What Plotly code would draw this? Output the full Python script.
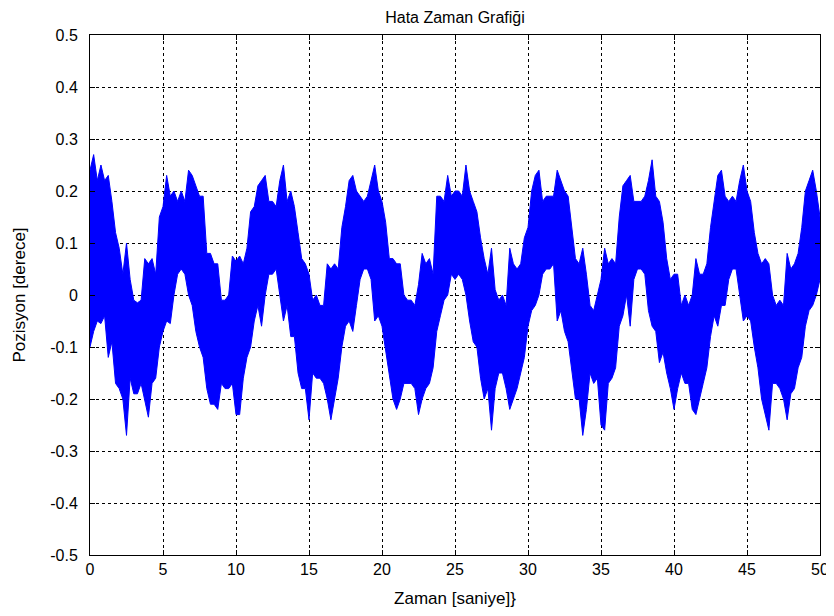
import plotly.graph_objects as go

# time axis: samples every 0.25 s from 0 to 50 s
time_s = [i * 0.25 for i in range(201)]

# upper envelope of the error band (degrees)
upper = [
    0.24, 0.27, 0.22, 0.25, 0.22, 0.23, 0.18, 0.12, 0.09, 0.04, 0.10, 0.03,
    -0.01, -0.015, -0.01, 0.07, 0.06, 0.07, 0.04, 0.15, 0.17, 0.23, 0.19, 0.20,
    0.18, 0.20, 0.18, 0.24, 0.23, 0.21, 0.19, 0.19, 0.08, 0.08,
    0.06, 0.06, -0.01, -0.01, 0.0, 0.075, 0.065, 0.075, 0.06, 0.09, 0.16, 0.17,
    0.21, 0.22, 0.23, 0.18, 0.18, 0.17, 0.22, 0.25, 0.18, 0.20, 0.17, 0.12,
    0.07, 0.06, 0.04, -0.01, 0.0, -0.02, -0.02, 0.06, 0.05,
    0.06, 0.05, 0.13, 0.17, 0.22, 0.23, 0.20, 0.19, 0.18, 0.19, 0.22, 0.25,
    0.20, 0.18, 0.14, 0.07, 0.07, 0.06, 0.06, 0.0, -0.01, -0.01, -0.02, 0.02,
    0.08, 0.06, 0.07, 0.04, 0.19, 0.19, 0.18, 0.23, 0.19, 0.20,
    0.20, 0.19, 0.25, 0.20, 0.18, 0.16, 0.11, 0.07, 0.04, 0.09, 0.01, -0.01,
    0.0, -0.02, 0.09, 0.06, 0.05, 0.06, 0.11, 0.13, 0.20, 0.23, 0.24, 0.18,
    0.19, 0.19, 0.19, 0.24, 0.22, 0.20, 0.19, 0.13, 0.07, 0.06,
    0.09, 0.04, -0.02, -0.03, 0.0, 0.03, 0.09, 0.06, 0.07, 0.06, 0.15, 0.21,
    0.22, 0.23, 0.18, 0.18, 0.18, 0.19, 0.22, 0.26, 0.19, 0.18, 0.14, 0.07,
    0.03, 0.04, 0.04, -0.02, 0.0, -0.02, 0.0, 0.07, 0.04,
    0.04, 0.06, 0.13, 0.18, 0.23, 0.24, 0.19, 0.18, 0.19, 0.18, 0.22, 0.25,
    0.20, 0.18, 0.12, 0.08, 0.06, 0.07, 0.06, 0.0, -0.02, -0.01, -0.02, 0.08,
    0.05, 0.06, 0.08, 0.13, 0.20, 0.22, 0.24, 0.20, 0.15,
]

# lower envelope of the error band (degrees)
lower = [
    -0.10, -0.07, -0.05, -0.055, -0.04, -0.12, -0.09, -0.17, -0.18, -0.20, -0.27, -0.16,
    -0.19, -0.19, -0.17, -0.20, -0.235, -0.17, -0.16, -0.10, -0.07, -0.05, -0.055, 0.0,
    0.04, 0.05, 0.04, 0.0, -0.02, -0.07, -0.10, -0.12, -0.18, -0.21,
    -0.21, -0.22, -0.17, -0.18, -0.18, -0.17, -0.23, -0.23, -0.16, -0.12, -0.10, -0.05,
    -0.02, -0.06, 0.0, 0.04, 0.04, 0.05, 0.0, -0.05, -0.02, -0.08, -0.08, -0.15,
    -0.18, -0.18, -0.24, -0.15, -0.16, -0.16, -0.17, -0.20, -0.24,
    -0.20, -0.16, -0.10, -0.06, -0.05, -0.07, -0.02, 0.03, 0.05, 0.05, 0.03, -0.05,
    -0.04, -0.06, -0.10, -0.15, -0.20, -0.22, -0.20, -0.17, -0.17, -0.17, -0.18, -0.23,
    -0.20, -0.18, -0.17, -0.14, -0.07, -0.04, -0.01, 0.0, 0.04, 0.03,
    0.04, 0.03, 0.0, -0.05, -0.09, -0.10, -0.16, -0.20, -0.18, -0.26, -0.18, -0.15,
    -0.15, -0.18, -0.22, -0.20, -0.18, -0.15, -0.12, -0.06, -0.03, -0.02, 0.0, 0.04,
    0.05, 0.05, 0.06, -0.05, -0.03, -0.07, -0.09, -0.14, -0.20, -0.20,
    -0.27, -0.22, -0.15, -0.17, -0.16, -0.25, -0.26, -0.17, -0.16, -0.14, -0.06, -0.04,
    0.0, -0.06, 0.03, 0.05, 0.05, 0.04, -0.03, -0.06, -0.07, -0.13, -0.11, -0.15,
    -0.18, -0.22, -0.18, -0.15, -0.17, -0.17, -0.22, -0.23, -0.20,
    -0.17, -0.14, -0.08, -0.04, -0.06, -0.02, -0.02, 0.03, 0.05, 0.05, 0.0, -0.05,
    -0.04, -0.05, -0.10, -0.14, -0.20, -0.23, -0.26, -0.17, -0.17, -0.18, -0.20, -0.24,
    -0.19, -0.18, -0.14, -0.12, -0.06, -0.03, -0.02, 0.0, 0.03,
]

x_ticks = [0, 5, 10, 15, 20, 25, 30, 35, 40, 45, 50]
y_ticks = [-0.5, -0.4, -0.3, -0.2, -0.1, 0, 0.1, 0.2, 0.3, 0.4, 0.5]
y_tick_text = ["-0.5", "-0.4", "-0.3", "-0.2", "-0.1", "0", "0.1", "0.2", "0.3", "0.4", "0.5"]

BLUE = "#0000FF"
FONT = "Liberation Sans, Arial, sans-serif"

fig = go.Figure()
fig.add_trace(go.Scatter(
    x=time_s + time_s[::-1],
    y=upper + lower[::-1],
    mode="lines",
    fill="toself",
    fillcolor=BLUE,
    line=dict(color=BLUE, width=1),
    hoverinfo="skip",
    showlegend=False,
))

axis_common = dict(
    showline=True, linecolor="black", linewidth=1, mirror="ticks",
    ticks="inside", ticklen=5, tickcolor="black", tickwidth=1,
    showgrid=True, gridcolor="black", griddash="dot", gridwidth=1,
    zeroline=False, automargin=False,
    tickfont=dict(family=FONT, size=16, color="black"),
)

# page body has an 8 px default margin, so the figure is sized to fit inside it
fig.update_layout(
    width=826, height=608,
    margin=dict(l=82, r=14, t=27, b=61),
    paper_bgcolor="white", plot_bgcolor="white",
    title=dict(text="Hata Zaman Grafiği", x=447 / 826, xanchor="center",
               y=1 - 4 / 608, yanchor="top", yref="container",
               font=dict(family=FONT, size=16, color="black")),
    xaxis=dict(range=[0, 50], tickvals=x_ticks,
               title=dict(text="Zaman [saniye]}", standoff=14,
                          font=dict(family=FONT, size=17, color="black")),
               **axis_common),
    yaxis=dict(range=[-0.5, 0.5], tickvals=y_ticks, ticktext=y_tick_text,
               ticklabelstandoff=8,
               title=dict(text="Pozisyon [derece]", standoff=20,
                          font=dict(family=FONT, size=17, color="black")),
               **axis_common),
)

fig.write_html("out.html")
